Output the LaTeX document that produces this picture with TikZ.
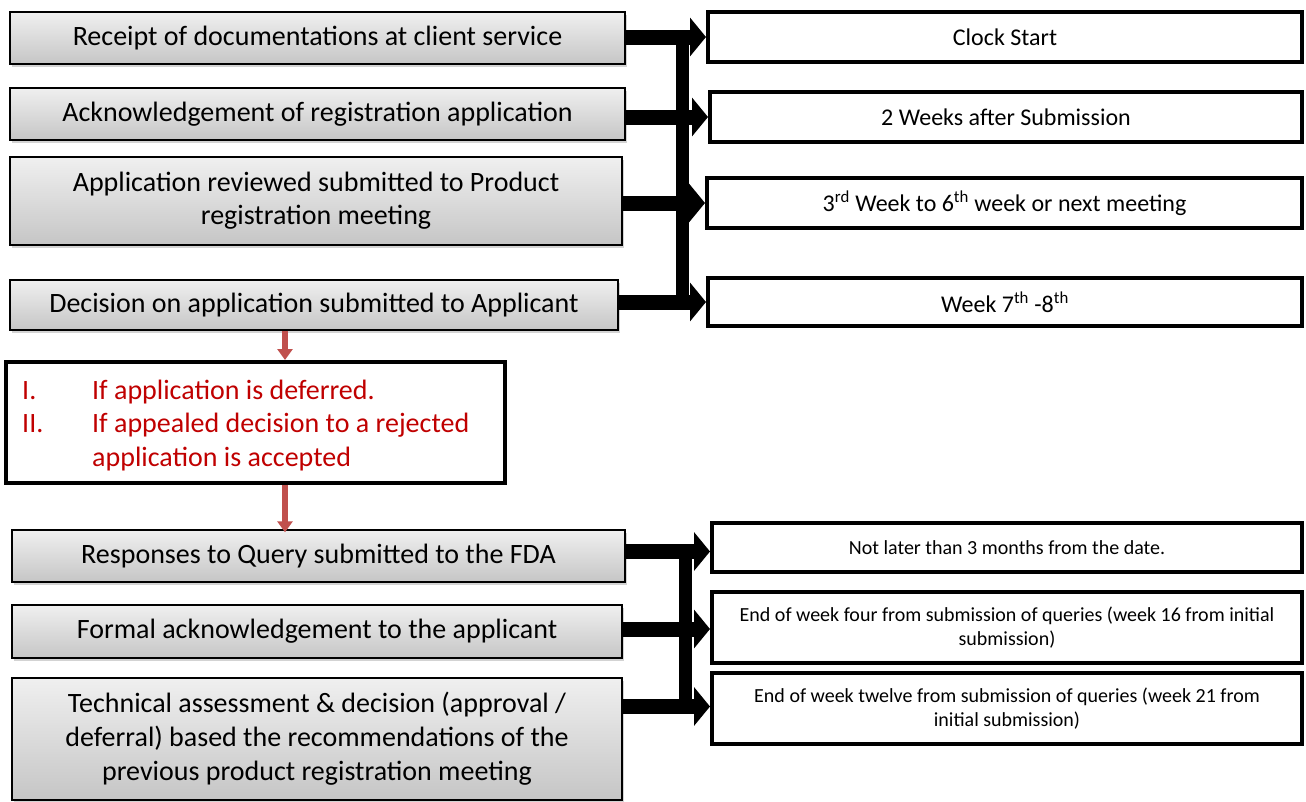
\documentclass[tikz,border=0pt]{standalone}
\usepackage{fontspec}
\setmainfont{Carlito}
\usetikzlibrary{arrows.meta,shadows,calc}
\definecolor{alertred}{RGB}{192,0,0}
\definecolor{flowred}{RGB}{192,80,77}
\tikzset{
  stepbox/.style={draw=black, line width=1.4pt, rectangle, top color=gray!12,
    bottom color=gray!45, drop shadow={shadow xshift=2pt, shadow yshift=-3pt, opacity=0.35},
    align=center, font=\fontsize{28}{33}\selectfont, inner sep=0pt},
  timebox/.style={draw=black, line width=4pt, rectangle, fill=white,
    align=center, inner sep=0pt},
  uppertime/.style={timebox, font=\fontsize{24}{28}\selectfont},
  lowertime/.style={timebox, font=\fontsize{20}{24}\selectfont},
  bigarrow/.style={line width=15pt, draw=black,
    -{Triangle[width=38pt,length=16pt]}},
  busbar/.style={line width=13pt, draw=black},
  redarrow/.style={line width=6pt, draw=flowred,
    -{Triangle[width=15pt,length=11pt]}},
}
\begin{document}
\begin{tikzpicture}[x=1pt,y=-1pt]
\useasboundingbox (0,0) rectangle (1306,801);

% process steps (left column)
\node[stepbox, minimum width=615pt, minimum height=52pt] (L1) at (317.5,38) {Receipt of documentations at client service};
\node[stepbox, minimum width=615pt, minimum height=52pt] (L2) at (317.5,114) {Acknowledgement of registration application};
\node[stepbox, minimum width=612pt, minimum height=88pt] (L3) at (316,201) {Application reviewed submitted to Product\\registration meeting};
\node[stepbox, minimum width=608pt, minimum height=50pt] (L4) at (314,305) {Decision on application submitted to Applicant};

\node[draw=black, line width=4pt, fill=white, minimum width=499pt, minimum height=121pt] (cond) at (255.5,422.5) {};
\node[anchor=west, inner sep=0pt, text=alertred, font=\fontsize{28}{33.5}\selectfont] (condtxt) at (22,426)
  {\begin{tabular}{@{}p{70pt}@{}l@{}}I. & If application is deferred.\\ II. & If appealed decision to a rejected\\ & application is accepted\end{tabular}};

\node[stepbox, minimum width=613pt, minimum height=52pt] (L5) at (318.5,556) {Responses to Query submitted to the FDA};
\node[stepbox, minimum width=610pt, minimum height=53pt] (L6) at (317,631.5) {Formal acknowledgement to the applicant};
\node[stepbox, minimum width=610pt, minimum height=122pt, font=\fontsize{28}{34}\selectfont] (L7) at (317,739) {Technical assessment \& decision (approval /\\deferral) based the recommendations of the\\previous product registration meeting};

% time frames (right column)
\node[uppertime, minimum width=594pt, minimum height=50pt] (R1) at (1005,37) {Clock Start};
\node[uppertime, minimum width=592pt, minimum height=50pt] (R2) at (1006,117) {2 Weeks after Submission};
\node[uppertime, minimum width=595pt, minimum height=50pt] (R3) at (1004.5,203) {3\textsuperscript{rd} Week to 6\textsuperscript{th} week or next meeting};
\node[uppertime, minimum width=594pt, minimum height=48pt] (R4) at (1005,302) {Week 7\textsuperscript{th} -8\textsuperscript{th}};
\node[lowertime, minimum width=590pt, minimum height=49pt] (R5) at (1007,547.5) {Not later than 3 months from the date.};
\node[lowertime, minimum width=590pt, minimum height=71pt] (R6) at (1007,627.5) {End of week four from submission of queries (week 16 from initial\\submission)};
\node[lowertime, minimum width=590pt, minimum height=71pt] (R7) at (1007,708.5) {End of week twelve from submission of queries (week 21 from\\initial submission)};

% vertical bars joining the arrows
\draw[busbar] ($(R1.west)+(-24,0)$) -- ($(R4.west)+(-24,0)$);
\draw[busbar] ($(R5.west)+(-25,4)$) -- ($(R7.west)+(-25,-2)$);

% arrows from steps to time frames
\draw[bigarrow] (L1.east |- R1.west) -- (R1.west);
\draw[bigarrow] (L2.east |- R2.west) -- (R2.west);
\draw[bigarrow] (L3.east |- R3.west) -- (R3.west);
\draw[bigarrow] (L4.east |- R4.west) -- (R4.west);
\draw[bigarrow] ($(L5.east |- R5.west)+(0,4)$) -- ($(R5.west)+(0,4)$);
\draw[bigarrow] ($(L6.east |- R6.west)+(0,1.5)$) -- ($(R6.west)+(0,1.5)$);
\draw[bigarrow] ($(L7.east |- R7.west)+(0,-2)$) -- ($(R7.west)+(0,-2)$);

% flow through the conditions box
\draw[redarrow] ([xshift=-29pt]L4.south) -- ([xshift=-29pt]L4.south |- cond.north);
\draw[redarrow] ([xshift=29.5pt]cond.south) -- ([xshift=29.5pt,yshift=-3pt]cond.south |- L5.north);
\end{tikzpicture}
\end{document}
